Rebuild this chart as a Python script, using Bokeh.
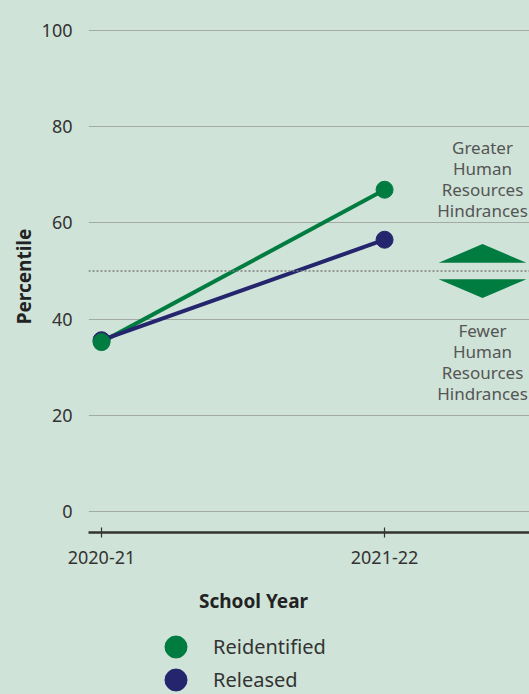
from bokeh.plotting import figure
from bokeh.layouts import column
from bokeh.models import Range1d, FixedTicker, Legend, LegendItem, Label, Span
from bokeh.embed import file_html
from bokeh.resources import INLINE

years = ["2020-21", "2021-22"]
x_pos = [0, 1]
reidentified = [35.2, 66.9]
released = [35.6, 56.5]
y_ticks = [0, 20, 40, 60, 80, 100]
midline = 50
greater_text = ["Greater", "Human", "Resources", "Hindrances"]
fewer_text = ["Fewer", "Human", "Resources", "Hindrances"]
series_names = ["Reidentified", "Released"]

BG = "#cfe3d8"
GREEN = "#007c41"
NAVY = "#25256e"
FONT = "Noto Sans"
NAN = float("nan")

p = figure(width=529, height=578, output_backend="svg", toolbar_location=None,
           x_range=Range1d(-0.046, 1.512), y_range=Range1d(-4.4, 102.1),
           min_border_left=88, min_border_right=0, min_border_top=20, min_border_bottom=46)
p.background_fill_color = BG
p.border_fill_color = BG
p.outline_line_color = None

# grid
p.xgrid.grid_line_color = None
p.ygrid.grid_line_color = "#a3aaa6"
p.ygrid.grid_line_width = 1.2
p.yaxis.ticker = FixedTicker(ticks=y_ticks)
p.xaxis.ticker = FixedTicker(ticks=x_pos)
p.xaxis.major_label_overrides = {x: y for x, y in zip(x_pos, years)}

# y axis
p.yaxis.axis_line_color = None
p.yaxis.major_tick_line_color = None
p.yaxis.minor_tick_line_color = None
p.yaxis.major_label_text_font = FONT
p.yaxis.major_label_text_font_size = "18px"
p.yaxis.major_label_text_color = "#333333"
p.yaxis.major_label_standoff = 10
p.yaxis.axis_label = "Percentile"
p.yaxis.axis_label_text_font = FONT
p.yaxis.axis_label_text_font_style = "bold"
p.yaxis.axis_label_text_font_size = "19px"
p.yaxis.axis_label_text_color = "#222222"
p.yaxis.axis_label_standoff = 2

# x axis
p.xaxis.axis_line_color = "#333333"
p.xaxis.axis_line_width = 2.5
p.xaxis.major_tick_line_color = "#333333"
p.xaxis.major_tick_line_width = 1.2
p.xaxis.major_tick_in = 5
p.xaxis.major_tick_out = 5
p.xaxis.minor_tick_line_color = None
p.xaxis.major_label_text_font = FONT
p.xaxis.major_label_text_font_size = "18px"
p.xaxis.major_label_text_color = "#333333"
p.xaxis.major_label_standoff = 13

# midline
p.add_layout(Span(location=midline, dimension="width", line_color="#7a7f7c",
                  line_width=1.5, line_dash="2 2"))

# series
p.line(x_pos, reidentified, line_color=GREEN, line_width=4)
p.line(x_pos, released, line_color=NAVY, line_width=4)
p.scatter(x_pos, released, size=17, fill_color=NAVY, line_color=NAVY)
p.scatter(x_pos, reidentified, size=17, fill_color=GREEN, line_color=GREEN)

# annotation triangles and text
cx = 1.346
hw = 0.155
p.patch([cx - hw, cx, cx + hw], [midline + 1.7, midline + 5.6, midline + 1.7], fill_color=GREEN, line_color=None)
p.patch([cx - hw, cx, cx + hw], [midline - 1.7, midline - 5.6, midline - 1.7], fill_color=GREEN, line_color=None)
for i, t in enumerate(greater_text):
    p.add_layout(Label(x=cx, y=75.7 - i * 4.375, text=t, text_align="center", text_baseline="middle",
                       text_font=FONT, text_font_size="17px", text_color="#555555"))
for i, t in enumerate(fewer_text):
    p.add_layout(Label(x=cx, y=37.7 - i * 4.375, text=t, text_align="center", text_baseline="middle",
                       text_font=FONT, text_font_size="17px", text_color="#555555"))

# lower panel: x-axis title and legend (frame aligned with the main plot)
p2 = figure(width=529, height=116, output_backend="svg", toolbar_location=None,
            x_range=Range1d(88, 529), y_range=Range1d(0, 116),
            x_axis_type=None, y_axis_type=None,
            min_border_left=88, min_border_right=0, min_border_top=0, min_border_bottom=0)
p2.background_fill_color = BG
p2.border_fill_color = BG
p2.outline_line_color = None
p2.grid.grid_line_color = None
p2.add_layout(Label(x=253, y=94, text="School Year", text_align="center", text_baseline="middle",
                    text_font=FONT, text_font_style="bold", text_font_size="19px", text_color="#222222"))
g1 = p2.scatter([NAN], [NAN], size=22, fill_color=GREEN, line_color=GREEN)
g2 = p2.scatter([NAN], [NAN], size=22, fill_color=NAVY, line_color=NAVY)

for label, rend, loc in [(series_names[0], g1, (60, 20)), (series_names[1], g2, (60, -13))]:
    legend = Legend(items=[LegendItem(label=label, renderers=[rend])],
                    orientation="vertical", location=loc)
    legend.background_fill_alpha = 0
    legend.border_line_color = None
    legend.label_text_font = FONT
    legend.label_text_font_size = "20px"
    legend.label_text_color = "#333333"
    legend.glyph_width = 55
    legend.glyph_height = 55
    legend.label_standoff = 10
    legend.padding = 0
    legend.margin = 0
    p2.add_layout(legend, "center")

open("out.html", "w").write(file_html(column(p, p2, spacing=0, styles={"background-color": BG}), INLINE))
